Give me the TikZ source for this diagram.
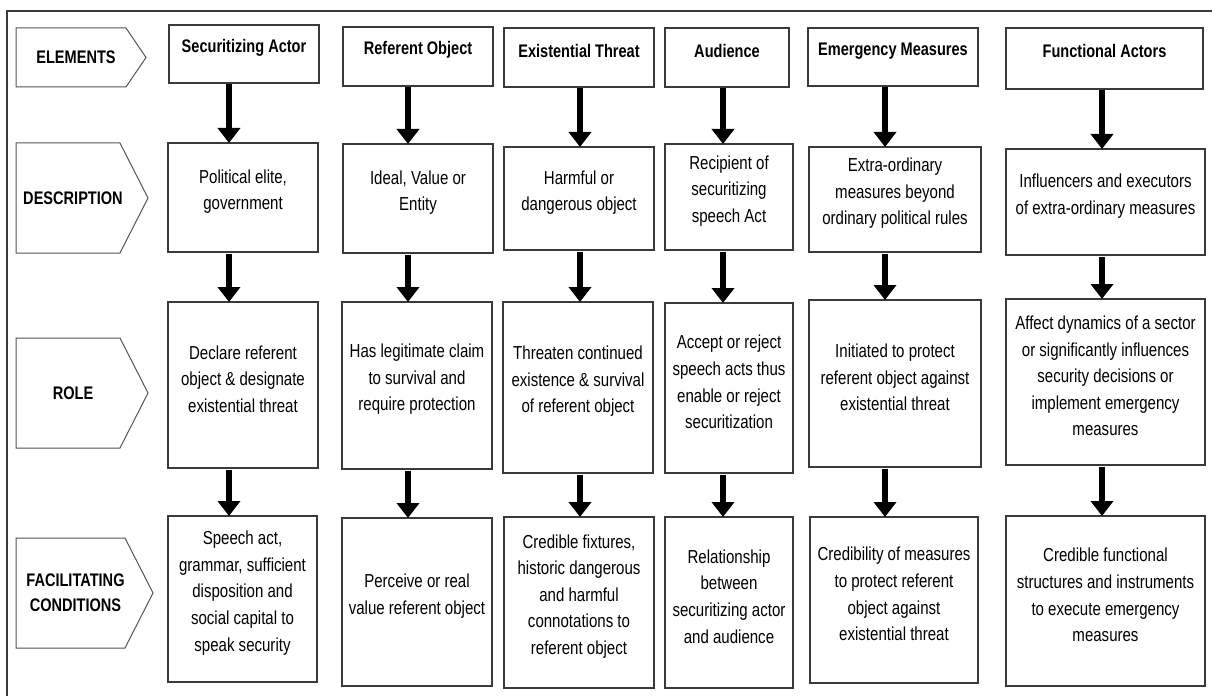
\documentclass[tikz,border=0pt]{standalone}
\usepackage{fontspec}
\setmainfont{Liberation Sans}[FakeStretch=0.80]
\usetikzlibrary{arrows.meta,calc}
\definecolor{edge}{HTML}{3A3A3A}
\definecolor{pedge}{HTML}{555555}
\tikzset{
  cellbox/.style={draw=edge, line width=1.3bp, inner sep=0pt, outer sep=0pt},
  celltxt/.style={align=center, inner sep=0pt, font=\fontsize{18.8bp}{26.6bp}\selectfont},
  hdrtxt/.style={align=center, inner sep=0pt, font=\fontsize{18.2bp}{25bp}\selectfont\bfseries},
  pentabox/.style={draw=pedge, line width=1bp},
  bigarrow/.style={line width=5.8bp, -{Triangle[width=22bp,length=15bp]}, shorten <=1.5bp},
  frame/.style={draw=edge, line width=1.2bp}
}
\newcommand\cell[5]{%
  \node[cellbox, minimum width={(#4-#2)*1bp}, minimum height={(#5-#3)*1bp}] (#1) at ({(#2+#4)/2},{(#3+#5)/2}) {};}
\newcommand\penta[7]{% name l t s tip b text
  \draw[pentabox] (#2,#3) -- (#4,#3) -- (#5,{(#3+#6)/2}) -- (#4,#6) -- (#2,#6) -- cycle;
  \node[hdrtxt] (#1) at ({(#2+#4)/2+5},{(#3+#6)/2}) {#7};}
\begin{document}
\begin{tikzpicture}[x=1bp,y=-1bp]
\useasboundingbox (0,0) rectangle (1212,696);
% outer frame (top and left)
\coordinate (fTL) at (7,11);
\coordinate (fTR) at (1212,11);
\coordinate (fBL) at (7,696);
\draw[frame] (fTR) -- (fTL) -- (fBL);

% row labels
\penta{lE}{16}{28}{126}{146}{87}{ELEMENTS}
\penta{lD}{16}{143}{120}{148}{253}{DESCRIPTION}
\penta{lR}{16}{338}{120}{148}{448}{ROLE}
\penta{lF}{16}{538}{125}{153}{648}{FACILITATING\\CONDITIONS}

% column 1
\cell{h1}{169}{25}{319}{83}
\cell{d1}{168}{143}{318}{252}
\cell{r1}{168}{302}{318}{468}
\cell{f1}{168}{516}{317}{682}
% column 2
\cell{h2}{343}{27}{493}{86}
\cell{d2}{343}{144}{493}{253}
\cell{r2}{342}{302}{492}{469}
\cell{f2}{342}{518}{492}{686}
% column 3
\cell{h3}{504}{28}{654}{87}
\cell{d3}{504}{147}{654}{250}
\cell{r3}{503}{302}{653}{473}
\cell{f3}{504}{517}{654}{688}
% column 4
\cell{h4}{665}{28}{789}{87}
\cell{d4}{665}{144}{793}{250}
\cell{r4}{665}{303}{793}{473}
\cell{f4}{665}{517}{793}{688}
% column 5
\cell{h5}{808}{28}{978}{86}
\cell{d5}{809}{147}{981}{252}
\cell{r5}{809}{300}{981}{467}
\cell{f5}{810}{517}{978}{683}
% column 6
\cell{h6}{1006}{28}{1203}{89}
\cell{d6}{1006}{149}{1205}{255}
\cell{r6}{1006}{299}{1205}{465}
\cell{f6}{1006}{516}{1205}{686}

% header texts
\node[hdrtxt] (ht1) at ([yshift=-23bp]h1.north) {Securitizing Actor};
\node[hdrtxt] (ht2) at ([yshift=-23bp]h2.north) {Referent Object};
\node[hdrtxt] (ht3) at ([yshift=-23bp]h3.north) {Existential Threat};
\node[hdrtxt] (ht4) at ([yshift=-23bp]h4.north) {Audience};
\node[hdrtxt] (ht5) at ([yshift=-23bp]h5.north) {Emergency Measures};
\node[hdrtxt] (ht6) at ([yshift=-23bp]h6.north) {Functional Actors};

% description texts
\node[celltxt] (dt1) at ([yshift=6bp]d1.center) {Political elite,\\government};
\node[celltxt] (dt2) at ([yshift=6bp]d2.center) {Ideal, Value or\\Entity};
\node[celltxt] (dt3) at ([yshift=6bp]d3.center) {Harmful or\\dangerous object};
\node[celltxt] (dt4) at ([yshift=6bp]d4.center) {Recipient of\\securitizing\\speech Act};
\node[celltxt] (dt5) at ([yshift=6bp]d5.center) {Extra-ordinary\\measures beyond\\ordinary political rules};
\node[celltxt] (dt6) at ([yshift=6bp]d6.center) {Influencers and executors\\of extra-ordinary measures};

% role texts
\node[celltxt] (rt1) at ([yshift=6bp]r1.center) {Declare referent\\object \& designate\\existential threat};
\node[celltxt] (rt2) at ([yshift=6bp]r2.center) {Has legitimate claim\\to survival and\\require protection};
\node[celltxt] (rt3) at ([yshift=6bp]r3.center) {Threaten continued\\existence \& survival\\of referent object};
\node[celltxt] (rt4) at ([yshift=6bp]r4.center) {Accept or reject\\speech acts thus\\enable or reject\\securitization};
\node[celltxt] (rt5) at ([yshift=6bp]r5.center) {Initiated to protect\\referent object against\\existential threat};
\node[celltxt] (rt6) at ([yshift=6bp]r6.center) {Affect dynamics of a sector\\or significantly influences\\security decisions or\\implement emergency\\measures};

% facilitating condition texts
\node[celltxt] (ft1) at ([yshift=6bp]f1.center) {Speech act,\\grammar, sufficient\\disposition and\\social capital to\\speak security};
\node[celltxt] (ft2) at ([yshift=6bp]f2.center) {Perceive or real\\value referent object};
\node[celltxt] (ft3) at ([yshift=6bp]f3.center) {Credible fixtures,\\historic dangerous\\and harmful\\connotations to\\referent object};
\node[celltxt] (ft4) at ([yshift=6bp]f4.center) {Relationship\\between\\securitizing actor\\and audience};
\node[celltxt] (ft5) at ([yshift=6bp]f5.center) {Credibility of measures\\to protect referent\\object against\\existential threat};
\node[celltxt] (ft6) at ([yshift=6bp]f6.center) {Credible functional\\structures and instruments\\to execute emergency\\measures};

% arrow axes
\coordinate (a1) at (229,0);
\coordinate (a2) at (408,0);
\coordinate (a3) at (580,0);
\coordinate (a4) at (723,0);
\coordinate (a5) at (885,0);
\coordinate (a6) at (1102,0);

\foreach \c in {1,...,6}{
  \draw[bigarrow] (h\c.south -| a\c) -- (d\c.north -| a\c);
  \draw[bigarrow] (d\c.south -| a\c) -- (r\c.north -| a\c);
  \draw[bigarrow] (r\c.south -| a\c) -- (f\c.north -| a\c);
}
\end{tikzpicture}
\end{document}
